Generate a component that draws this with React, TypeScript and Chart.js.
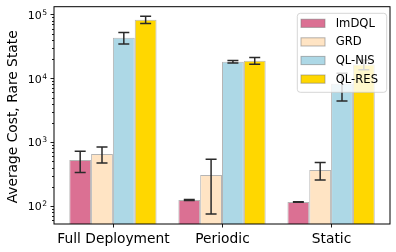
import React, { useEffect, useRef } from 'react';
import { Chart, registerables } from 'chart.js';

Chart.register(...registerables);

const categories = ['Full Deployment', 'Periodic', 'Static'];
const seriesNames = ['ImDQL', 'GRD', 'QL-NIS', 'QL-RES'];
const imdqlValues = [527, 124, 115];
const imdqlErrors = [192, 2, 1];
const grdValues = [655, 307, 367];
const grdErrors = [183, 232, 112];
const qlnisValues = [43300, 18200, 8230];
const qlnisErrors = [8800, 850, 3800];
const qlresValues = [83000, 18900, 16500];
const qlresErrors = [10500, 2250, 2900];
const yMajorTicks = [100, 1000, 10000, 100000];
const yTickExponents = ['2', '3', '4', '5'];
const yTitle = 'Average Cost, Rare State';

const seriesValues = [imdqlValues, grdValues, qlnisValues, qlresValues];
const seriesErrors = [imdqlErrors, grdErrors, qlnisErrors, qlresErrors];
const seriesColors = ['#DB7093', '#FFE4C4', '#ADD8E6', '#FFD700'];
const edgeColor = 'rgba(120,120,120,0.55)';
const FONT = '"DejaVu Sans", sans-serif';

const overlayPlugin = {
  id: 'overlay',
  afterDatasetsDraw(chart: any) {
    const ctx = chart.ctx;
    const ys = chart.scales.y;
    const a = chart.chartArea;
    ctx.save();
    ctx.beginPath();
    ctx.rect(a.left, a.top, a.right - a.left, a.bottom - a.top);
    ctx.clip();
    ctx.strokeStyle = '#2a2a2a';
    ctx.lineWidth = 1.5;
    chart.data.datasets.forEach((ds: any, di: number) => {
      const meta = chart.getDatasetMeta(di);
      meta.data.forEach((bar: any, j: number) => {
        const v = seriesValues[di][j];
        const e = seriesErrors[di][j];
        const yt = ys.getPixelForValue(v + e);
        const yb = ys.getPixelForValue(Math.max(v - e, 1e-6));
        const cw = 5.5;
        ctx.beginPath();
        ctx.moveTo(bar.x, yt);
        ctx.lineTo(bar.x, yb);
        ctx.moveTo(bar.x - cw, yt);
        ctx.lineTo(bar.x + cw, yt);
        ctx.moveTo(bar.x - cw, yb);
        ctx.lineTo(bar.x + cw, yb);
        ctx.stroke();
      });
    });
    ctx.restore();
  },
  afterDraw(chart: any) {
    const ctx = chart.ctx;
    const a = chart.chartArea;
    const xs = chart.scales.x;
    const ys = chart.scales.y;
    ctx.save();
    // frame
    ctx.strokeStyle = '#000';
    ctx.lineWidth = 1;
    ctx.strokeRect(a.left, a.top, a.right - a.left, a.bottom - a.top);
    // y ticks
    const lmin = Math.floor(Math.log10(ys.min));
    const lmax = Math.ceil(Math.log10(ys.max));
    ctx.lineWidth = 0.9;
    for (let d = lmin; d <= lmax; d++) {
      for (let m = 1; m <= 9; m++) {
        const val = m * Math.pow(10, d);
        if (val < ys.min || val > ys.max) continue;
        const py = Math.round(ys.getPixelForValue(val)) + 0.5;
        const len = m === 1 ? 3.5 : 2;
        ctx.beginPath();
        ctx.moveTo(a.left - len, py);
        ctx.lineTo(a.left, py);
        ctx.stroke();
      }
    }
    // y tick labels
    ctx.fillStyle = '#000';
    yMajorTicks.forEach((val, i) => {
      const py = ys.getPixelForValue(val);
      ctx.font = `7.6px ${FONT}`;
      const ew = ctx.measureText(yTickExponents[i]).width;
      ctx.textAlign = 'right';
      ctx.textBaseline = 'alphabetic';
      const rightX = a.left - 7;
      ctx.fillText(yTickExponents[i], rightX, py + 0.3);
      ctx.font = `11px ${FONT}`;
      ctx.fillText('10', rightX - ew - 0.3, py + 4.2);
    });
    // x ticks
    ctx.lineWidth = 0.9;
    ctx.font = `13.8px ${FONT}`;
    ctx.textAlign = 'center';
    ctx.textBaseline = 'alphabetic';
    categories.forEach((c, i) => {
      const px = Math.round(xs.getPixelForValue(i)) + 0.5;
      ctx.beginPath();
      ctx.moveTo(px, a.bottom);
      ctx.lineTo(px, a.bottom + 3.5);
      ctx.stroke();
      ctx.fillText(c, px, a.bottom + 18.7);
    });
    // y title
    ctx.save();
    ctx.translate(13, (a.top + a.bottom) / 2 + 1.5);
    ctx.rotate(-Math.PI / 2);
    ctx.font = `13.8px ${FONT}`;
    ctx.textAlign = 'center';
    ctx.textBaseline = 'middle';
    ctx.fillText(yTitle, 0, 0);
    ctx.restore();
    // legend
    const lx = a.right - 92.7;
    const ly = a.top + 6.6;
    const lw = 89.4;
    const lh = 79;
    ctx.beginPath();
    ctx.roundRect(lx, ly, lw, lh, 3);
    ctx.fillStyle = 'rgba(255,255,255,0.8)';
    ctx.fill();
    ctx.strokeStyle = 'rgba(204,204,204,0.8)';
    ctx.lineWidth = 1;
    ctx.stroke();
    ctx.font = `11.6px ${FONT}`;
    ctx.textAlign = 'left';
    ctx.textBaseline = 'middle';
    seriesNames.forEach((name, i) => {
      const cy = ly + 10 + i * 18.6;
      ctx.fillStyle = seriesColors[i];
      ctx.fillRect(lx + 3.7, cy - 4.1, 24, 8.2);
      ctx.strokeStyle = edgeColor;
      ctx.lineWidth = 1;
      ctx.strokeRect(lx + 3.7, cy - 4.1, 24, 8.2);
      ctx.fillStyle = '#000';
      ctx.fillText(name, lx + 38.4, cy + 0.5);
    });
    ctx.restore();
  },
};

export default function App() {
  const canvasRef = useRef<HTMLCanvasElement | null>(null);
  useEffect(() => {
    if (!canvasRef.current) return;
    const chart = new Chart(canvasRef.current, {
      type: 'bar',
      data: {
        datasets: seriesNames.map((name, i) => ({
          label: name,
          data: seriesValues[i].map((v, j) => ({ x: j, y: v })),
          backgroundColor: seriesColors[i],
          borderColor: edgeColor,
          borderWidth: 1,
          borderSkipped: false,
          base: 1,
          categoryPercentage: 0.8,
          barPercentage: 1.0,
        })),
      },
      options: {
        responsive: false,
        animation: false,
        layout: { padding: { top: 6.7, right: 6, left: 0, bottom: 0 } },
        plugins: { legend: { display: false }, tooltip: { enabled: false } },
        scales: {
          x: {
            type: 'linear',
            min: -0.54,
            max: 2.54,
            offset: false,
            grid: { display: false },
            border: { display: false },
            ticks: { display: false },
            afterBuildTicks: (s: any) => {
              s.ticks = categories.map((_, i) => ({ value: i }));
            },
            afterFit: (s: any) => {
              s.height = 28;
            },
          },
          y: {
            type: 'logarithmic',
            min: 52.2,
            max: 132400,
            grid: { display: false },
            border: { display: false },
            ticks: { display: false },
            afterFit: (s: any) => {
              s.width = 54;
            },
          },
        },
      } as any,
      plugins: [overlayPlugin],
    });
    return () => chart.destroy();
  }, []);
  return (
    <div style={{ position: 'fixed', left: 0, top: 0, width: 396, height: 252 }}>
      <canvas ref={canvasRef} width={396} height={252} />
    </div>
  );
}
